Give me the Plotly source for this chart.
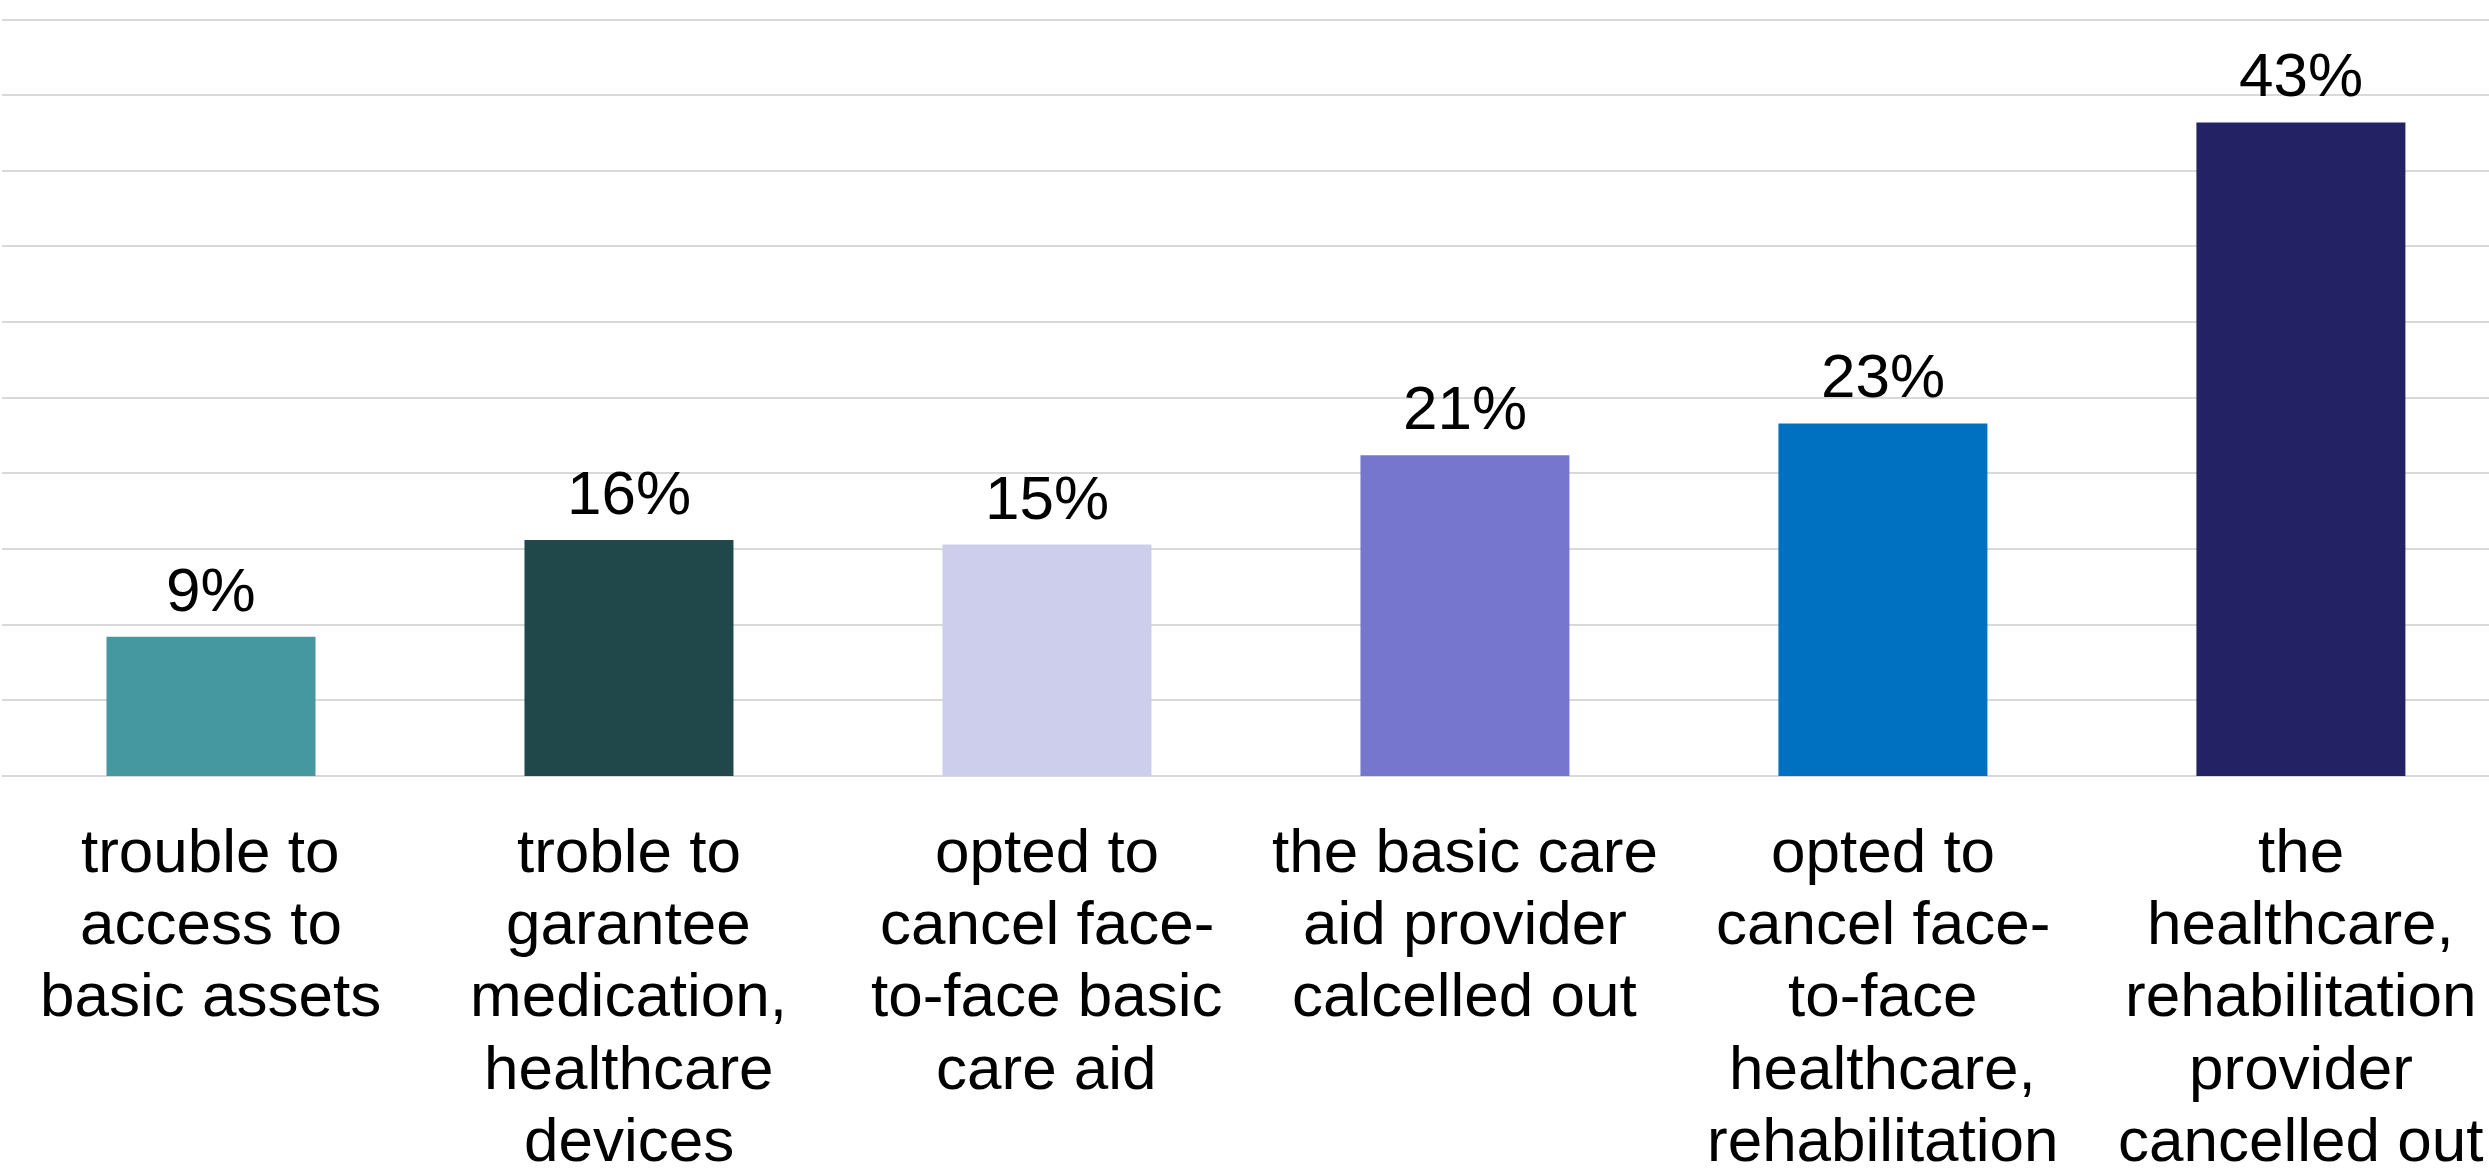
import plotly.graph_objects as go

categories = [
    "trouble to|access to|basic assets",
    "troble to|garantee|medication,|healthcare|devices",
    "opted to|cancel face-|to-face basic|care aid",
    "the basic care|aid provider|calcelled out",
    "opted to|cancel face-|to-face|healthcare,|rehabilitation",
    "the|healthcare,|rehabilitation|provider|cancelled out",
]
values = [9.2, 15.6, 15.3, 21.2, 23.3, 43.2]
colors = ["#4698A0", "#20484A", "#CDCEEC", "#7676CE", "#0070C0", "#222264"]

FONT = "Liberation Sans, Arial, sans-serif"
x_idx = list(range(len(categories)))

fig = go.Figure()
fig.add_trace(go.Bar(
    x=x_idx, y=values, width=0.5,
    marker=dict(color=colors, line=dict(width=0)),
    hoverinfo="skip",
))

annotations = []
for i, v in enumerate(values):
    annotations.append(dict(
        x=i, y=v, xref="x", yref="y", text=f"{v:.0f}%", showarrow=False,
        yanchor="bottom", xanchor="center", yshift=11,
        font=dict(family=FONT, size=62, color="#000000"),
    ))
LINE_H = 72.2
for i, cat in enumerate(categories):
    for j, line in enumerate(cat.split("|")):
        annotations.append(dict(
            x=i, y=0, xref="x", yref="paper", text=line, showarrow=False,
            yanchor="top", xanchor="center", yshift=-(38 + j * LINE_H),
            font=dict(family=FONT, size=62, color="#000000"),
        ))

fig.update_layout(
    width=2489, height=1173,
    margin=dict(l=2, r=0, t=18, b=397, pad=0),
    paper_bgcolor="#FFFFFF", plot_bgcolor="#FFFFFF",
    showlegend=False,
    annotations=annotations,
    xaxis=dict(range=[-0.5, 5.45], showticklabels=False, showgrid=False,
               zeroline=False, showline=False, ticks=""),
    yaxis=dict(range=[0, 50.1], dtick=5, tick0=0, showticklabels=False,
               showgrid=True, gridcolor="#D9D9D9", gridwidth=2,
               zeroline=True, zerolinecolor="#D9D9D9", zerolinewidth=2,
               showline=False, ticks=""),
)

fig.write_html("out.html")
